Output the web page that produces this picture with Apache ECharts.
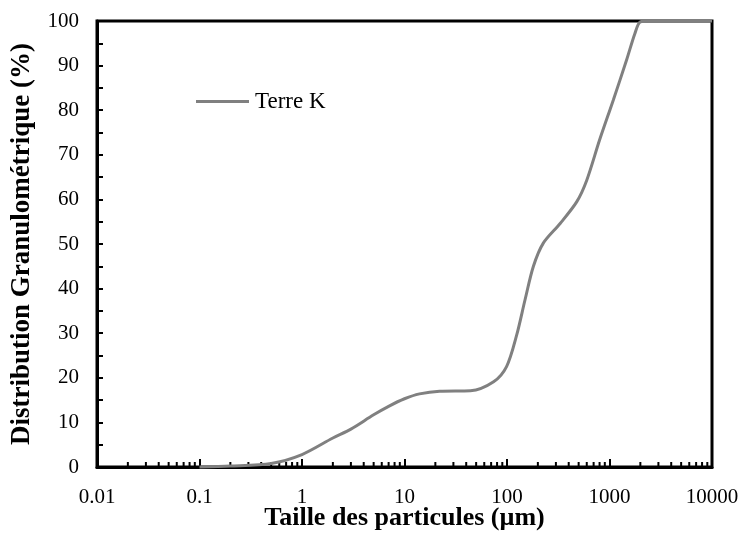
<!DOCTYPE html>
<html>
<head>
<meta charset="utf-8">
<script src="https://cdn.jsdelivr.net/npm/echarts@6/dist/echarts.min.js"></script>
<style>
  html, body { margin: 0; padding: 0; background: #fff; }
  #chart { width: 743px; height: 533px; }
</style>
</head>
<body>
<div id="chart"></div>
<script>
// Particle size (µm) and cumulative passing (%) for Terre K
const particleSize = [0.1, 0.2, 0.5, 1, 2, 3, 5, 7, 10, 14, 22, 44, 74, 99, 124, 150, 181, 226, 330, 480, 600, 800, 1090, 1470, 1770, 2000, 2500, 10000];
const passing      = [0,   0.2, 0.8, 2.8, 6.5, 8.5, 11.7, 13.6, 15.3, 16.4, 17.0, 17.1, 19.1, 22.5, 29.5, 37.5, 45, 50.2, 54.6, 59.5, 64.3, 73.3, 82.3, 91.3, 97.2, 99.8, 100, 100];

const xTickLabels = ['0.01', '0.1', '1', '10', '100', '1000', '10000'];
const yTickLabels = ['0', '10', '20', '30', '40', '50', '60', '70', '80', '90', '100'];

// Minor tick positions between decades (2..9 × 10^n)
const minorTickValues = [
  0.02, 0.03, 0.04, 0.05, 0.06, 0.07, 0.08, 0.09,
  0.2, 0.3, 0.4, 0.5, 0.6, 0.7, 0.8, 0.9,
  2, 3, 4, 5, 6, 7, 8, 9,
  20, 30, 40, 50, 60, 70, 80, 90,
  200, 300, 400, 500, 600, 700, 800, 900,
  2000, 3000, 4000, 5000, 6000, 7000, 8000, 9000
];

const serif = '"Liberation Serif", "DejaVu Serif", serif';

const chart = echarts.init(document.getElementById('chart'));

chart.setOption({
  animation: false,
  backgroundColor: '#fff',
  grid: {
    left: 97, right: 31, top: 21, bottom: 66,
    outerBoundsMode: 'none',
    containLabel: false,
    show: true, borderColor: '#000', borderWidth: 3, backgroundColor: 'transparent'
  },
  legend: {
    data: ['Terre K'],
    left: 191, top: 85,
    icon: 'rect',
    itemWidth: 53, itemHeight: 3, itemGap: 4,
    textStyle: { fontFamily: serif, fontSize: 23, color: '#000', padding: [0, 0, 0, 1] }
  },
  xAxis: {
    type: 'log',
    logBase: 10,
    min: 0.01,
    max: 10000,
    name: 'Taille des particules (µm)',
    nameLocation: 'middle',
    nameGap: 38,
    nameMoveOverlap: false,
    nameTextStyle: { fontFamily: serif, fontSize: 26, fontWeight: 'bold', color: '#000' },
    axisLine: { show: true, onZero: false, lineStyle: { color: '#000', width: 3 } },
    axisTick: { show: true, inside: true, length: 8, lineStyle: { color: '#000', width: 2 } },
    axisLabel: {
      fontFamily: serif, fontSize: 21, color: '#000', margin: 20,
      formatter: function (v) { return xTickLabels[Math.round(Math.log10(v)) + 2]; }
    },
    splitLine: { show: false }
  },
  yAxis: {
    type: 'value',
    min: 0, max: 100, interval: 10,
    name: 'Distribution Granulométrique (%)',
    nameLocation: 'middle',
    nameGap: 61,
    nameTextStyle: { fontFamily: serif, fontSize: 27, fontWeight: 'bold', color: '#000' },
    axisLine: { show: true, lineStyle: { color: '#000', width: 3 } },
    axisTick: { show: true, inside: true, length: 6, lineStyle: { color: '#000', width: 2 } },
    minorTick: { show: true, splitNumber: 2, length: 6, lineStyle: { color: '#000', width: 2 } },
    axisLabel: {
      fontFamily: serif, fontSize: 21, color: '#000', margin: 18,
      formatter: function (v) { return yTickLabels[Math.round(v / 10)]; }
    },
    splitLine: { show: false }
  },
  series: [
    {
      name: 'x-minor-ticks',
      type: 'custom',
      silent: true,
      clip: false,
      data: minorTickValues.map(function (v) { return [v, 0]; }),
      renderItem: function (params, api) {
        const p = api.coord([api.value(0), 0]);
        return {
          type: 'line',
          shape: { x1: p[0], y1: p[1], x2: p[0], y2: p[1] - 5 },
          style: { stroke: '#000', lineWidth: 2 }
        };
      },
      z: 1
    },
    {
      name: 'Terre K',
      type: 'line',
      data: particleSize.map(function (x, i) { return [x, passing[i]]; }),
      symbol: 'none',
      smooth: 0.3,
      clip: false,
      lineStyle: { color: '#808080', width: 3 },
      itemStyle: { color: '#808080' },
      z: 3
    }
  ]
});
</script>
</body>
</html>
